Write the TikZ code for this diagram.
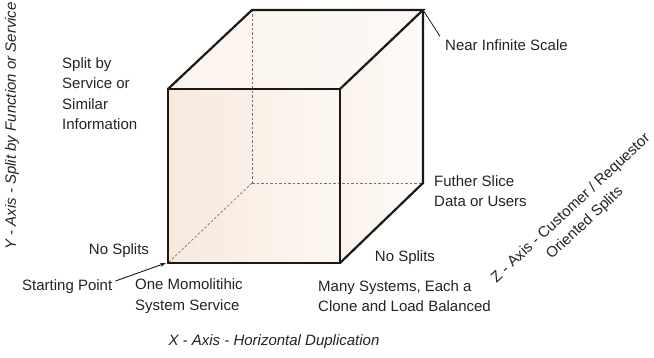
\documentclass[tikz,border=0pt]{standalone}
\usepackage{fontspec}
\setmainfont{Liberation Sans}
\usepackage{xcolor}
\definecolor{textcolor}{RGB}{35,35,35}
\definecolor{edgecolor}{RGB}{28,24,22}
\definecolor{facecolor}{RGB}{248,233,220}
\definecolor{hiddencolor}{RGB}{120,115,110}
\usetikzlibrary{arrows.meta,calc}

\begin{document}
\begin{tikzpicture}[x=1pt, y=-1pt, every node/.style={color=textcolor, font=\fontsize{15}{20.5}\selectfont, inner sep=0pt}]
  \useasboundingbox (0,0) rectangle (654,358);

  % cube corners
  \coordinate (fbl) at (168,263);
  \coordinate (fbr) at (340,263);
  \coordinate (ftl) at (168,89);
  \coordinate (ftr) at (340,89);
  \coordinate (bbl) at (252,183);
  \coordinate (bbr) at (423,183);
  \coordinate (btl) at (252,10);
  \coordinate (btr) at (423,10);

  % faces
  \shade[left color=facecolor, right color=facecolor!35] (ftl) -- (ftr) -- (fbr) -- (fbl) -- cycle;
  \shade[left color=facecolor!50, right color=facecolor!30] (ftl) -- (btl) -- (btr) -- (ftr) -- cycle;
  \shade[left color=facecolor!55, right color=facecolor!20] (ftr) -- (btr) -- (bbr) -- (fbr) -- cycle;

  % hidden edges
  \draw[hiddencolor, line width=0.7pt, dash pattern=on 2.5pt off 2pt] (btl) -- (bbl);
  \draw[hiddencolor, line width=0.7pt, dash pattern=on 2.5pt off 2pt] (bbl) -- (bbr);
  \draw[hiddencolor, line width=0.7pt, dash pattern=on 2.5pt off 2pt] (bbl) -- (fbl);

  % visible edges
  \draw[edgecolor, line width=2.2pt, line join=miter] (ftl) -- (ftr) -- (fbr) -- (fbl) -- cycle;
  \draw[edgecolor, line width=2.2pt, line join=miter] (ftl) -- (btl) -- (btr) -- (ftr);
  \draw[edgecolor, line width=2.2pt, line join=miter] (btr) -- (bbr) -- (fbr);

  % labels
  \node[anchor=west] (infinite) at (445,45) {Near Infinite Scale};
  \draw[edgecolor, line width=0.8pt] (btr) -- ($(infinite.north west)+(-5,-3)$);

  \node[anchor=north west, align=left] (split) at (62,57) {Split by\\Service or\\Similar\\Information};
  \node[anchor=west, align=left] (slice) at (434,191) {Futher Slice\\Data or Users};
  \node (nosplitz) at (405,258) {No Splits};
  \node (nosplity) at (119,251) {No Splits};
  \node[anchor=west] (start) at (22,287) {Starting Point};
  \draw[-{Stealth[length=6pt, width=4pt]}, edgecolor, line width=0.9pt] ($(start.east)+(3,-6)$) -- ($(fbl)+(-2,0)$);
  \node[anchor=west, align=left] (mono) at (135,296) {One Momolitihic\\System Service};
  \node[anchor=west, align=left] (many) at (318,296) {Many Systems, Each a\\Clone and Load Balanced};

  % axis titles
  \node[font=\fontsize{15}{20}\selectfont\itshape] (xaxis) at (274,342) {X - Axis - Horizontal Duplication};
  \node[font=\fontsize{15}{20}\selectfont\itshape, rotate=90] (yaxis) at (12,126) {Y - Axis - Split by Function or Service};
  \node[align=center, rotate=43] (zaxis) at (578,216) {Z - Axis - Customer / Requestor\\Oriented Splits};
\end{tikzpicture}
\end{document}
